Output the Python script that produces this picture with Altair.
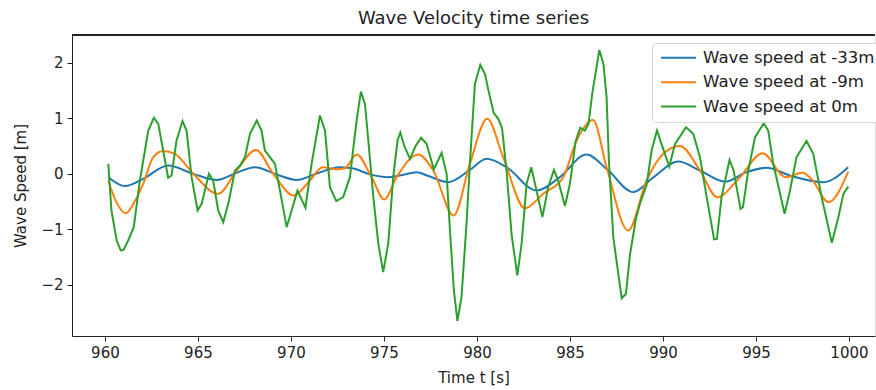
import altair as alt
import pandas as pd

labels = ["Wave speed at -33m", "Wave speed at -9m", "Wave speed at 0m"]
colors = ["#1f77b4", "#ff7f0e", "#2ca02c"]

t_33 = [960.18, 961.08, 962.06, 963.4, 964.75, 966.0, 967.08, 968.06, 969.3, 970.3,
        971.5, 972.6, 973.3, 974.25, 975.23, 976.0, 976.75, 977.4, 978.46, 979.62,
        980.52, 981.59, 983.2, 984.46, 985.89, 987.06, 988.4, 989.5, 990.82, 991.99,
        993.33, 994.5, 995.57, 996.83, 998.62, 999.96]
v_33 = [-0.06, -0.22, -0.09, 0.15, 0.0, -0.11, 0.02, 0.12, -0.02, -0.11,
        0.02, 0.12, 0.1, -0.01, -0.06, -0.02, 0.03, -0.04, -0.15, 0.07,
        0.27, 0.12, -0.3, -0.06, 0.35, 0.06, -0.33, -0.06, 0.22, 0.06,
        -0.14, 0.03, 0.11, -0.03, -0.15, 0.12]

t_9 = [960.18, 960.6, 961.13, 961.6, 962.06, 962.6, 963.13, 963.76, 964.75, 966.09,
       967.08, 968.12, 969.05, 970.15, 971.02, 971.7, 972.45, 972.9, 973.53, 974.34,
       975.02, 975.68, 976.84, 977.65, 978.75, 979.62, 980.55, 981.41, 982.58, 983.56,
       984.64, 985.36, 986.24, 986.97, 988.13, 989.12, 990.02, 990.91, 991.99, 992.92,
       994.14, 995.35, 996.6, 997.5, 998.0, 998.9, 999.96]
v_9 = [-0.12, -0.5, -0.71, -0.5, -0.18, 0.3, 0.41, 0.36, 0.0, -0.36,
       0.06, 0.43, 0.0, -0.39, -0.12, 0.12, 0.08, 0.1, 0.35, -0.06,
       -0.46, -0.06, 0.35, 0.06, -0.75, 0.18, 0.99, 0.3, -0.62, -0.36,
       -0.06, 0.6, 0.97, 0.12, -1.02, -0.12, 0.36, 0.5, 0.06, -0.42,
       -0.06, 0.37, -0.06, 0.02, -0.1, -0.51, 0.04]

t_0 = [960.18, 960.35, 960.63, 960.85, 961.0, 961.25, 961.55, 961.88, 962.33, 962.63,
       962.87, 963.13, 963.4, 963.58, 963.85, 964.17, 964.39, 964.66, 964.98, 965.2,
       965.59, 965.82, 966.09, 966.36, 966.63, 966.99, 967.26, 967.53, 967.8, 968.16,
       968.42, 968.6, 968.87, 969.14, 969.41, 969.77, 970.04, 970.35, 970.78, 971.11,
       971.56, 971.83, 972.1, 972.44, 972.81, 973.17, 973.53, 973.76, 973.98, 974.16,
       974.43, 974.7, 974.96, 975.23, 975.5, 975.73, 975.88, 976.1, 976.4, 976.7,
       977.0, 977.29, 977.68, 978.1, 978.37, 978.55, 978.76, 978.95, 979.17, 979.44,
       979.62, 979.89, 980.18, 980.43, 980.66, 980.9, 981.15, 981.35, 981.59, 981.86,
       982.17, 982.4, 982.67, 982.92, 983.12, 983.52, 983.83, 984.14, 984.37, 984.73,
       985.0, 985.3, 985.55, 985.8, 986.0, 986.2, 986.58, 986.8, 986.97, 987.1,
       987.33, 987.78, 988.01, 988.23, 988.55, 988.8, 989.12, 989.39, 989.68, 989.92,
       990.34, 990.65, 991.24, 991.63, 991.99, 992.35, 992.75, 992.9, 993.15, 993.58,
       993.8, 994.17, 994.3, 994.59, 994.95, 995.42, 995.66, 995.93, 996.54, 996.83,
       997.18, 997.72, 998.08, 998.53, 999.08, 999.43, 999.7, 999.96]
v_0 = [0.18, -0.66, -1.2, -1.38, -1.37, -1.2, -0.96, -0.12, 0.78, 1.01,
       0.9, 0.42, -0.07, -0.03, 0.6, 0.95, 0.78, -0.06, -0.66, -0.54,
       0.0, -0.12, -0.66, -0.87, -0.54, 0.06, 0.15, 0.3, 0.72, 0.96,
       0.78, 0.42, 0.3, 0.18, -0.3, -0.96, -0.66, -0.3, -0.61, 0.18,
       1.05, 0.78, -0.24, -0.49, -0.42, -0.06, 0.96, 1.48, 1.26, 0.6,
       -0.42, -1.26, -1.77, -1.26, -0.06, 0.6, 0.74, 0.5, 0.27, 0.5,
       0.65, 0.54, 0.08, 0.38, 0.0, -1.02, -2.1, -2.65, -2.22, -0.9,
       0.18, 1.62, 1.96, 1.8, 1.44, 1.1, 0.99, 0.82, 0.06, -1.08,
       -1.83, -1.26, -0.18, 0.12, -0.18, -0.78, -0.24, 0.07, -0.12, -0.58,
       -0.18, 0.58, 0.83, 0.78, 0.9, 1.45, 2.23, 1.98, 1.38, 0.2,
       -1.14, -2.24, -2.16, -1.45, -0.8, -0.5, -0.2, 0.42, 0.78, 0.54,
       0.13, 0.54, 0.84, 0.72, 0.3, -0.42, -1.18, -1.17, -0.42, 0.25,
       0.06, -0.63, -0.6, 0.06, 0.66, 0.91, 0.78, 0.18, -0.72, -0.3,
       0.3, 0.59, 0.36, -0.42, -1.24, -0.78, -0.36, -0.23]

x_ticks = [960, 965, 970, 975, 980, 985, 990, 995, 1000]
y_ticks = [-2, -1, 0, 1, 2]
x_domain = [958.23, 1001.4]
y_domain = [-2.92, 2.5]

rows = []
for lab, ts, vs in zip(labels, [t_33, t_9, t_0], [v_33, v_9, v_0]):
    for t, v in zip(ts, vs):
        rows.append({"series": lab, "t": t, "v": v})
df = pd.DataFrame(rows)

FONT = "DejaVu Sans"
W, H = 803, 301

color = alt.Color(
    "series:N",
    scale=alt.Scale(domain=labels, range=colors),
    sort=labels,
    legend=alt.Legend(
        title=None, orient="none", legendX=580, legendY=8,
        symbolType="M-1.15,0H5.85", symbolSize=100, symbolStrokeWidth=2,
        labelFont=FONT, labelFontSize=16.6, labelColor="#222", labelLimit=400,
        labelOffset=28, padding=6.5, rowPadding=7.4,
        strokeColor="#d5d5d5", fillColor="white", cornerRadius=3,
    ),
)

x = alt.X("t:Q", scale=alt.Scale(domain=x_domain, nice=False, zero=False),
          axis=alt.Axis(values=x_ticks, format="d", title="Time t [s]", grid=False,
                        labelFont=FONT, labelFontSize=15, labelColor="#222",
                        labelPadding=4, tickSize=5, tickColor="#222", domainColor="#222",
                        titleFont=FONT, titleFontSize=15, titleFontWeight="normal",
                        titleColor="#222", titlePadding=10))
y = alt.Y("v:Q", scale=alt.Scale(domain=y_domain, nice=False, zero=False),
          axis=alt.Axis(values=y_ticks, title="Wave Speed [m]", grid=False,
                        labelExpr="replace(format(datum.value, 'd'), '-', '\u2212')",
                        labelFont=FONT, labelFontSize=15, labelColor="#222",
                        labelPadding=4, tickSize=5, tickColor="#222", domainColor="#222",
                        titleFont=FONT, titleFontSize=15, titleFontWeight="normal",
                        titleColor="#222", titlePadding=12))

smooth = alt.Chart(df).transform_filter(
    alt.FieldOneOfPredicate(field="series", oneOf=labels[:2])
).mark_line(strokeWidth=2, interpolate="monotone").encode(
    x=x, y=y, color=color, order="t:Q")

green = alt.Chart(df).transform_filter(
    alt.FieldEqualPredicate(field="series", equal=labels[2])
).mark_line(strokeWidth=2).encode(x=x, y=y, color=color, order="t:Q")

top = alt.Chart(df).mark_rule(color="#222", strokeWidth=1).encode(
    x=alt.value(0), x2=alt.value(W), y=alt.value(0))

chart = alt.layer(smooth, green, top).properties(
    width=W, height=H,
    title=alt.TitleParams("Wave Velocity time series", font=FONT, fontSize=18,
                          fontWeight="normal", color="#222", anchor="middle",
                          baseline="alphabetic", offset=12, dy=19),
    autosize=alt.AutoSizeParams(type="none"),
    padding={"left": 72, "top": 35, "right": 1, "bottom": 54},
).configure_view(stroke=None).configure(background="white")

chart.save("out.html", embed_options={"renderer": "svg", "actions": False})
